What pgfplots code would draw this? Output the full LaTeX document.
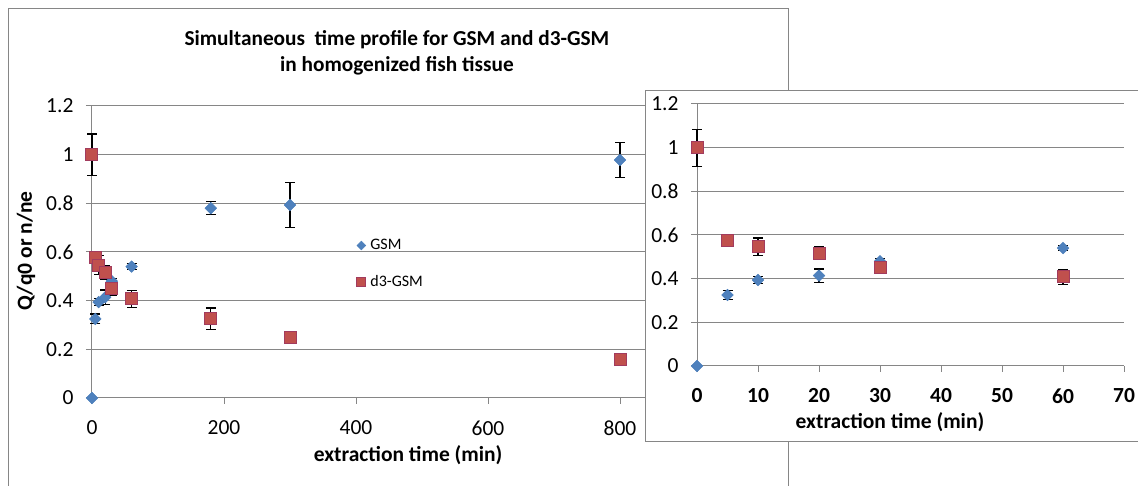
\documentclass[border=0pt]{standalone}
\usepackage{pgfplots}
\usepackage{pgfplotstable}
\pgfplotsset{compat=1.18}
\usepackage{fontspec}
\setmainfont{Carlito}
\definecolor{gsm}{HTML}{4F81BD}
\definecolor{gsmb}{HTML}{4A7EBB}
\definecolor{dgsm}{HTML}{C0504D}
\definecolor{dgsmb}{HTML}{A23B5E}
\definecolor{gridc}{HTML}{868686}

\pgfplotstableread{
x y e
0 0 0
5 0.325 0.02
10 0.394 0.015
20 0.414 0.03
30 0.48 0.012
60 0.54 0.012
180 0.78 0.026
300 0.793 0.093
800 0.978 0.072
}\gsmdata

\pgfplotstableread{
x y e
0 1.0 0.085
5 0.576 0.005
10 0.546 0.04
20 0.516 0.03
30 0.452 0.03
60 0.408 0.035
180 0.325 0.045
300 0.25 0.0
800 0.16 0.0
}\dgsmdata

\pgfplotsset{
  excel/.style={
    scale only axis,
    axis x line*=bottom, axis y line*=left,
    axis line style={draw=gridc, line width=1pt, -},
    ymajorgrids, grid style={draw=gridc, line width=1pt},
    tick align=outside, major tick length=6pt,
    tick style={draw=gridc, line width=1pt},
    ymin=0, ymax=1.2, ytick={0,0.2,0.4,0.6,0.8,1,1.2},
    /pgf/number format/assume math mode=true,
    yticklabel style={font=\fontsize{21.5}{24}\selectfont, xshift=-9pt},
    xticklabel style={font=\fontsize{21.5}{24}\selectfont, yshift=-13pt},
    label style={font=\fontsize{21.5}{24}\selectfont\bfseries},
    clip=false,
  },
  gsmstyle/.style={only marks, mark=square*, mark size=4.1pt,
    mark options={rotate=45, fill=gsm, draw=gsmb, line width=0.5pt},
    error bars/.cd, y dir=both, y explicit,
    error bar style={black, line width=1.2pt},
    error mark options={rotate=90, black, line width=1.2pt, mark size=5pt}},
  dgsmstyle/.style={only marks, mark=square*, mark size=6pt,
    mark options={fill=dgsm, draw=dgsmb, line width=1pt},
    error bars/.cd, y dir=both, y explicit,
    error bar style={black, line width=1.2pt},
    error mark options={rotate=90, black, line width=1.2pt, mark size=5pt}},
}

\begin{document}
\begin{tikzpicture}
\draw[gridc, line width=1pt] (8pt,477pt) rectangle (788pt,-10pt);

\begin{axis}[excel,
  at={(92pt,88pt)}, anchor=south west,
  width=660pt, height=292pt,
  xmin=0, xmax=1000, xtick={0,200,400,600,800,1000},
  xlabel={extraction time (min)},
  ylabel={Q/q0 or n/ne},
  xlabel style={at={(axis description cs:0.479,-0.195)}, anchor=center},
  ylabel style={at={(axis description cs:-0.1,0.503)}, anchor=center},
  title={Simultaneous\ \ time profile for GSM and d3-GSM\\in homogenized fish tissue},
  title style={align=center, font=\fontsize{21.3}{26}\selectfont\bfseries,
    at={(axis description cs:0.462,1.16)}, anchor=center},
  legend style={at={(axis cs:401,0.66)}, anchor=north west, draw=none, fill=none,
    font=\fontsize{16}{18}\selectfont, row sep=20pt, inner sep=0pt,
    /tikz/every odd column/.append style={column sep=2.5pt}},
  legend cell align=left,
  legend image code/.code={\draw[#1, every mark/.append style={scale=0.75}] plot coordinates {(0pt,0pt)};},
]
\addplot+[gsmstyle] table[x=x,y=y,y error=e] {\gsmdata};
\addlegendentry{GSM}
\addplot+[dgsmstyle] table[x=x,y=y,y error=e] {\dgsmdata};
\addlegendentry{d3-GSM}
\end{axis}

\fill[white] (645pt,395pt) rectangle (1145pt,44pt);
\draw[gridc, line width=1pt] (645pt,395pt) rectangle (1145pt,44pt);

\begin{axis}[excel,
  at={(697pt,120pt)}, anchor=south west,
  width=427pt, height=262pt,
  xmin=0, xmax=70, xtick={0,10,...,70},
  xticklabel style={font=\fontsize{21.5}{24}\selectfont\bfseries},
  xlabel={extraction time (min)},
  xlabel style={at={(axis description cs:0.452,-0.214)}, anchor=center},
]
\addplot+[gsmstyle] table[x=x,y=y,y error=e] {\gsmdata};
\addplot+[dgsmstyle] table[x=x,y=y,y error=e] {\dgsmdata};
\end{axis}
\pgfresetboundingbox
\path[use as bounding box] (0pt,0pt) rectangle (1138pt,486pt);
\end{tikzpicture}
\end{document}
